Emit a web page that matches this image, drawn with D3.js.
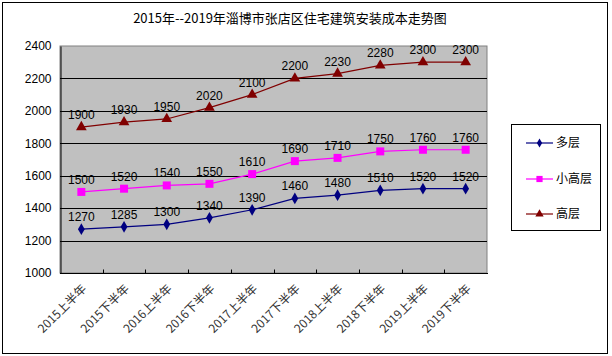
<!DOCTYPE html>
<html><head><meta charset="utf-8">
<script src="https://cdn.jsdelivr.net/npm/d3@7"></script>
<style>
html,body{margin:0;padding:0;background:#fff;}
svg{display:block;}
text{font-family:"Liberation Sans",Arial,"Noto Sans CJK SC",sans-serif;}
.cjk{font-family:"Noto Sans CJK SC","Liberation Sans",sans-serif;}
</style>
</head><body>
<script>
const categories = ["2015上半年","2015下半年","2016上半年","2016下半年","2017上半年","2017下半年","2018上半年","2018下半年","2019上半年","2019下半年"];
const duoceng = [1270,1285,1300,1340,1390,1460,1480,1510,1520,1520];
const xiaogaoceng = [1500,1520,1540,1550,1610,1690,1710,1750,1760,1760];
const gaoceng = [1900,1930,1950,2020,2100,2200,2230,2280,2300,2300];
const yTicks = [1000,1200,1400,1600,1800,2000,2200,2400];
const seriesNames = ["多层","小高层","高层"];
const title = "2015年--2019年淄博市张店区住宅建筑安装成本走势图";

const series = [
  {name: seriesNames[0], values: duoceng, color: "#000080", shape: d3.symbolDiamond, size: 40},
  {name: seriesNames[1], values: xiaogaoceng, color: "#FF00FF", shape: d3.symbolSquare, size: 64},
  {name: seriesNames[2], values: gaoceng, color: "#800000", shape: d3.symbolTriangle, size: 50}
];

const W = 612, H = 356;
const svg = d3.select("body").append("svg").attr("width", W).attr("height", H);

svg.append("rect").attr("x", 2.5).attr("y", 2.5).attr("width", 605).attr("height", 351)
  .attr("fill", "#fff").attr("stroke", "#000").attr("stroke-width", 1);

svg.append("text").attr("class","cjk").attr("x", 290).attr("y", 23).attr("text-anchor","middle")
  .attr("font-size", 13).attr("fill","#000").text(title);

const L = 60, R = 487, T = 46, B = 273;
const x = d3.scaleBand().domain(categories).range([L, R]);
const y = d3.scaleLinear().domain([1000, 2400]).range([B, T]);

svg.append("rect").attr("x", L).attr("y", T).attr("width", R - L).attr("height", B - T)
  .attr("fill", "#C0C0C0").attr("stroke", "#808080").attr("stroke-width", 1);

svg.append("g").selectAll("line").data(yTicks.filter(d => d > 1000 && d < 2400)).join("line")
  .attr("x1", L).attr("x2", R).attr("y1", d => Math.round(y(d)) + 0.5).attr("y2", d => Math.round(y(d)) + 0.5)
  .attr("stroke", "#000").attr("stroke-width", 1);

const yAxis = d3.axisLeft(y).tickValues(yTicks).tickFormat(d3.format("d")).tickSize(0).tickPadding(9);
const gy = svg.append("g").attr("transform", `translate(${L + 0.5},0)`).call(yAxis);
gy.select(".domain").attr("stroke", "#000");
gy.selectAll("text").attr("font-size", 12).attr("fill", "#000")
  .attr("font-family", "'Liberation Sans',Arial,sans-serif");

const gx = svg.append("g").attr("transform", `translate(0,${B + 0.5})`);
gx.append("line").attr("x1", L).attr("x2", R + 1).attr("stroke", "#000");
gx.selectAll("line.tick").data(categories.slice(1)).join("line").attr("class","tick")
  .attr("x1", d => Math.round(x(d)) + 0.5).attr("x2", d => Math.round(x(d)) + 0.5)
  .attr("y1", 0).attr("y2", -4).attr("stroke", "#000");
gx.selectAll("text").data(categories).join("text")
  .attr("class","cjk")
  .attr("transform", d => `translate(${x(d) + x.bandwidth() / 2 + 3},${13}) rotate(-45)`)
  .attr("text-anchor", "end").attr("dy", "0.35em")
  .attr("font-size", 12).attr("fill", "#333").text(d => d);

const line = d3.line().x((d, i) => x(categories[i]) + x.bandwidth() / 2).y(d => y(d));
series.forEach(s => {
  const g = svg.append("g");
  g.append("path").datum(s.values).attr("d", line).attr("fill", "none")
    .attr("stroke", s.color).attr("stroke-width", 1.2);
  g.selectAll("path.m").data(s.values).join("path").attr("class","m")
    .attr("transform", (d, i) => `translate(${x(categories[i]) + x.bandwidth() / 2},${y(d)})`)
    .attr("d", d3.symbol().type(s.shape).size(s.size)).attr("fill", s.color);
  g.selectAll("text").data(s.values).join("text")
    .attr("x", (d, i) => x(categories[i]) + x.bandwidth() / 2)
    .attr("y", d => y(d) - 8)
    .attr("text-anchor", "middle").attr("font-size", 12).attr("fill", "#000")
    .text(d => d);
});

const lg = svg.append("g");
lg.append("rect").attr("x", 511.5).attr("y", 124.5).attr("width", 89).attr("height", 106)
  .attr("fill", "#fff").attr("stroke", "#000");
const ly = [143, 179, 214];
series.forEach((s, i) => {
  lg.append("line").attr("x1", 526).attr("x2", 553).attr("y1", ly[i]).attr("y2", ly[i])
    .attr("stroke", s.color).attr("stroke-width", 1.2);
  lg.append("path").attr("transform", `translate(539.5,${ly[i]})`)
    .attr("d", d3.symbol().type(s.shape).size(s.size * 0.6)).attr("fill", s.color);
  lg.append("text").attr("class","cjk").attr("x", 556).attr("y", ly[i]).attr("dy","0.35em")
    .attr("font-size", 12).attr("fill","#000").text(s.name);
});
</script>
</body></html>
